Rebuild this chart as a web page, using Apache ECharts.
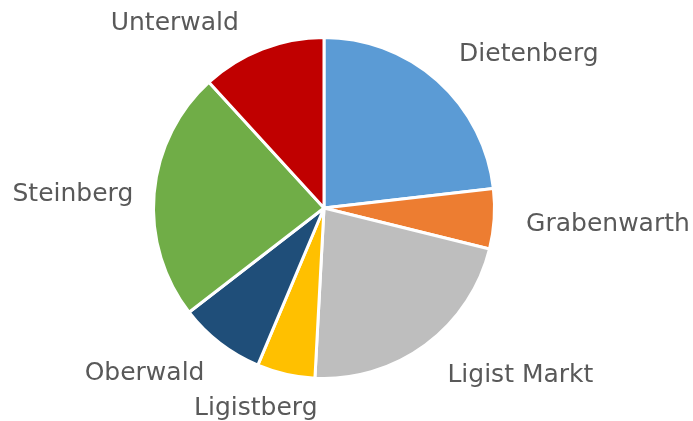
<!DOCTYPE html>
<html>
<head>
<meta charset="utf-8">
<script src="https://cdn.jsdelivr.net/npm/echarts@6/dist/echarts.min.js"></script>
<style>
  html, body { margin: 0; padding: 0; background: #fff; }
  #chart { width: 693px; height: 421px; }
</style>
</head>
<body>
<div id="chart"></div>
<script>
  // Anteile je Ortsteil (%), im Uhrzeigersinn ab 12 Uhr
  const categories = ['Dietenberg', 'Grabenwarth', 'Ligist Markt', 'Ligistberg', 'Oberwald', 'Steinberg', 'Unterwald'];
  const values = [23.2, 5.7, 22.0, 5.5, 8.2, 23.7, 11.8];
  const colors = ['#5B9BD5', '#ED7D31', '#BEBEBE', '#FFC000', '#1F4E79', '#70AD47', '#C00000'];
  // kleine Korrekturen der Beschriftung (Excel setzt sie etwas anders als ECharts)
  const labelNudge = [[-3, 1], [-5, 3], [0, 1], [40, -2], [7, 1], [16, 4], [-10, 9]];

  const chart = echarts.init(document.getElementById('chart'));
  const option = {
    animation: false,
    color: colors,
    series: [
      {
        type: 'pie',
        center: [324, 208],
        radius: 170.5,
        startAngle: 90,
        clockwise: true,
        avoidLabelOverlap: false,
        itemStyle: {
          borderColor: '#ffffff',
          borderWidth: 3
        },
        label: {
          show: true,
          position: 'outside',
          formatter: '{b}',
          color: '#595959',
          fontFamily: 'DejaVu Sans',
          fontSize: 25,
          distanceToLabelLine: 0
        },
        labelLine: {
          show: false,
          length: 37,
          length2: 0
        },
        labelLayout: function (params) {
          const n = labelNudge[params.dataIndex];
          return { dx: n[0], dy: n[1] };
        },
        emphasis: { disabled: true },
        data: categories.map(function (name, i) {
          return { name: name, value: values[i] };
        })
      }
    ]
  };
  chart.setOption(option);
</script>
</body>
</html>
